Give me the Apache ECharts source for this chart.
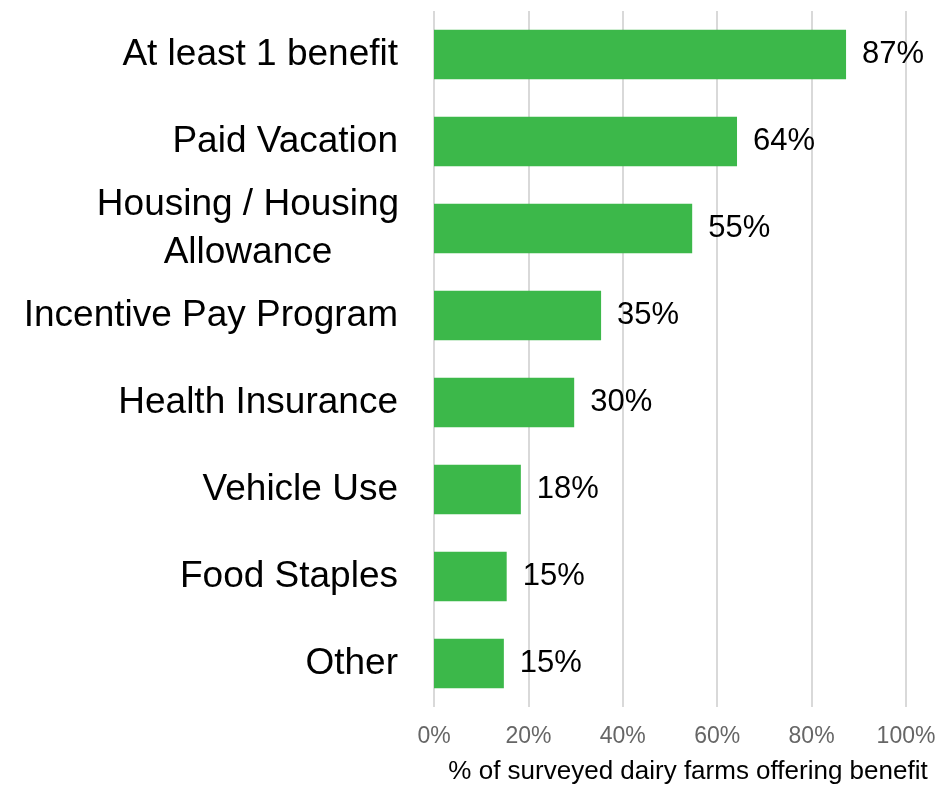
<!DOCTYPE html>
<html><head><meta charset="utf-8">
<script src="https://cdn.jsdelivr.net/npm/echarts@6/dist/echarts.min.js"></script>
<style>html,body{margin:0;padding:0;background:#fff}#c{width:950px;height:785px}</style>
</head><body><div id="c"></div>
<script>
const categories = ["At least 1 benefit","Paid Vacation","Housing / Housing\nAllowance","Incentive Pay Program","Health Insurance","Vehicle Use","Food Staples","Other"];
const values = [87.3, 64.2, 54.7, 35.4, 29.7, 18.4, 15.4, 14.8];
const axisTitle = "% of surveyed dairy farms offering benefit";

const chart = echarts.init(document.getElementById('c'));
chart.setOption({
  animation: false,
  grid: {left: 434, right: 44, top: 11, bottom: 78, outerBoundsMode: 'none', containLabel: false},
  xAxis: {
    type: 'value', min: 0, max: 100, interval: 20,
    axisLine: {show: false}, axisTick: {show: false},
    splitLine: {lineStyle: {color: '#d9d9d9', width: 2}},
    axisLabel: {formatter: '{value}%', color: '#666666', fontSize: 23, fontFamily: 'Liberation Sans', margin: 18},
    name: axisTitle, nameLocation: 'middle', nameGap: 52,
    nameTextStyle: {color: '#000', fontSize: 26, fontFamily: 'Liberation Sans', padding: [0,0,0,36]}
  },
  yAxis: {
    type: 'category', data: categories, inverse: true,
    axisLine: {show: false}, axisTick: {show: false},
    axisLabel: {color: '#000', fontSize: 37, fontFamily: 'Liberation Sans', margin: 36, lineHeight: 48, align: 'right',
      formatter: v => v.indexOf('\n') >= 0 ? v.split('\n').map(s => '{c|' + s + '}').join('\n') : v,
      rich: {c: {color: '#000', fontSize: 37, fontFamily: 'Liberation Sans', lineHeight: 48, width: 300, align: 'center'}}}
  },
  series: [{
    type: 'bar', data: values, barCategoryGap: '43%',
    itemStyle: {color: '#3cb84a'},
    label: {show: true, position: 'right', distance: 16, color: '#000', fontSize: 31, fontFamily: 'Liberation Sans',
      formatter: p => Math.round(p.value) + '%'}
  }]
});
</script></body></html>
